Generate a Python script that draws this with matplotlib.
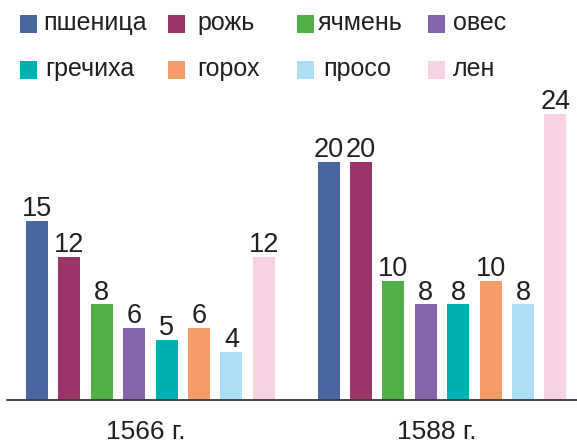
import matplotlib
matplotlib.use("Agg")
import matplotlib.pyplot as plt
from matplotlib.patches import Rectangle

plt.rcParams['font.family'] = ['Liberation Sans', 'DejaVu Sans']

crops = ["пшеница", "рожь", "ячмень", "овес", "гречиха", "горох", "просо", "лен"]
years = ["1566 г.", "1588 г."]
values_1566 = [15, 12, 8, 6, 5, 6, 4, 12]
values_1588 = [20, 20, 10, 8, 8, 10, 8, 24]
colors = ["#4A66A0", "#9B3467", "#52AE47", "#8366AB",
          "#00AFAF", "#F59B67", "#ADDEF5", "#F8D1E3"]
txt = "#231F20"

W, H = 577, 445
fig = plt.figure(figsize=(W / 100, H / 100), dpi=100)
ax = fig.add_axes([0, 0, 1, 1])
unit = 32.4
ppu = 11.9
ax.set_xlim(-37 / unit, (W - 37) / unit)
ax.set_ylim(-45.5 / ppu, (H - 45.5) / ppu)
ax.axis("off")

group_gap = 9
for g, vals in enumerate([values_1566, values_1588]):
    xs = [g * group_gap + i for i in range(len(vals))]
    ax.bar(xs, vals, width=0.68, color=colors, linewidth=0)
    for x, v in zip(xs, vals):
        ax.annotate(str(v), (x, v), xytext=(0, -1), textcoords="offset points",
                    ha="center", va="bottom", fontsize=19.5, color=txt)
    ax.text(g * group_gap + 3.35, -2.7, years[g], ha="center", va="center",
            fontsize=19, color=txt)

ax.axhline(0, xmin=7 / W, xmax=1, color="#3a3a3a", linewidth=1.3)

# legend (manual layout)
col_sq = [20, 168, 297, 428]
col_tx = [[43, 197, 318, 453], [45, 197, 323, 453]]
row_y = [24, 70]
sq = 17
for k, (name, c) in enumerate(zip(crops, colors)):
    r, cidx = divmod(k, 4)
    x0 = col_sq[cidx]
    yc = row_y[r]
    fig.patches.append(Rectangle((x0 / W, 1 - (yc + sq / 2) / H), sq / W, sq / H,
                                 transform=fig.transFigure, facecolor=c,
                                 edgecolor="none"))
    fig.text(col_tx[r][cidx] / W, 1 - (yc - 1) / H, name, ha="left", va="center",
             fontsize=18, color=txt)

fig.savefig("out.png", dpi=100)
